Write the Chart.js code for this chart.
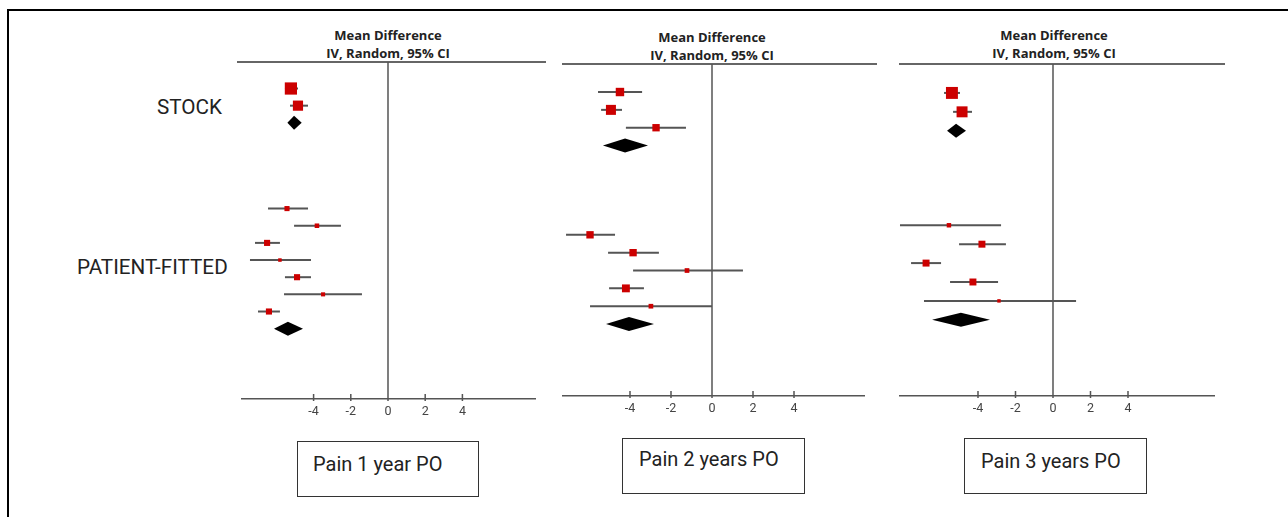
<!DOCTYPE html>
<html>
<head>
<meta charset="utf-8">
<script src="https://cdn.jsdelivr.net/npm/chart.js@4.4.1/dist/chart.umd.min.js"></script>
<style>
    html, body { margin: 0; padding: 0; background: #fff; }
    #page { position: relative; width: 1288px; height: 517px; overflow: hidden; font-family: Roboto, 'Noto Sans', sans-serif; color: #222; }
    .frame-top { position: absolute; left: 7px; top: 9px; width: 1281px; height: 2px; background: #000; }
    .frame-left { position: absolute; left: 7px; top: 9px; width: 2px; height: 508px; background: #000; }
    .group-label { position: absolute; font-size: 20.7px; white-space: nowrap; line-height: 22px; }
    .header { position: absolute; width: 220px; text-align: center; font-family: 'Open Sans', sans-serif; font-weight: 700; font-size: 13px; line-height: 18px; color: #222; }
    .header-line { position: absolute; height: 2px; background: #666; }
    .plot { position: absolute; }
    .caption { position: absolute; box-sizing: border-box; height: 56px; border: 1.5px solid #333; font-size: 20px; line-height: 22px; white-space: nowrap; }
</style>
</head>
<body>
<div id="page">
    <div class="frame-top"></div>
    <div class="frame-left"></div>

    <div class="group-label" style="left:157px; top:96px;">STOCK</div>
    <div class="group-label" style="left:77px; top:256px;">PATIENT-FITTED</div>

    <div class="header" style="left:278px; top:26px;">Mean Difference<br>IV, Random, 95% CI</div>
    <div class="header" style="left:602px; top:28px;">Mean Difference<br>IV, Random, 95% CI</div>
    <div class="header" style="left:944px; top:26px;">Mean Difference<br>IV, Random, 95% CI</div>

    <div class="header-line" style="left:237px; top:61px; width:309px;"></div>
    <div class="header-line" style="left:562px; top:63px; width:315px;"></div>
    <div class="header-line" style="left:899px; top:63px; width:326px;"></div>

    <canvas id="pain1" class="plot" width="295" height="361" style="left:241px; top:62px;"></canvas>
    <canvas id="pain2" class="plot" width="303" height="356" style="left:562px; top:64px;"></canvas>
    <canvas id="pain3" class="plot" width="316" height="356" style="left:899px; top:64px;"></canvas>

    <div class="caption" style="left:297px; top:441px; width:182px; padding:11px 0 0 15px;">Pain 1 year PO</div>
    <div class="caption" style="left:622px; top:438px; width:183px; padding:9px 0 0 16px;">Pain 2 years PO</div>
    <div class="caption" style="left:964px; top:438px; width:183px; padding:11px 0 0 16px;">Pain 3 years PO</div>
</div>

<script>
// Tick labels shared by all three axes
const xTicks = [-4, -2, 0, 2, 4];

// Pain 1 year PO
const p1StockMean   = [-5.22, -4.84];
const p1StockLower  = [-5.54, -5.27];
const p1StockUpper  = [-4.84, -4.30];
const p1StockWeight = [33.9, 23.5];
const p1StockPooled = [-5.05, -5.41, -4.64];   // mean, lower, upper

const p1FittedMean   = [-5.43, -3.82, -6.50, -5.81, -4.89, -3.49, -6.40];
const p1FittedLower  = [-6.45, -5.05, -7.15, -7.42, -5.54, -5.59, -6.99];
const p1FittedUpper  = [-4.30, -2.53, -5.81, -4.14, -4.14, -1.40, -5.81];
const p1FittedWeight = [5.9, 4.7, 8.5, 2.8, 8.5, 3.8, 8.5];
const p1FittedPooled = [-5.38, -6.13, -4.57];

// Pain 2 years PO
const p2StockMean   = [-4.49, -4.93, -2.73];
const p2StockLower  = [-5.56, -5.41, -4.20];
const p2StockUpper  = [-3.41, -4.39, -1.27];
const p2StockWeight = [16.1, 22.7, 12.3];
const p2StockPooled = [-4.24, -5.32, -3.12];

const p2FittedMean   = [-5.95, -3.85, -1.22, -4.20, -2.98];
const p2FittedLower  = [-7.12, -5.07, -3.85, -5.02, -5.95];
const p2FittedUpper  = [-4.73, -2.59, 1.51, -3.32, 0.00];
const p2FittedWeight = [12.3, 12.3, 5.0, 14.1, 5.0];
const p2FittedPooled = [-4.05, -5.17, -2.83];

// Pain 3 years PO
const p3StockMean   = [-5.39, -4.85];
const p3StockLower  = [-5.81, -5.33];
const p3StockUpper  = [-4.96, -4.32];
const p3StockWeight = [32.4, 27.3];
const p3StockPooled = [-5.17, -5.65, -4.64];

const p3FittedMean   = [-5.55, -3.79, -6.77, -4.27, -2.88];
const p3FittedLower  = [-8.16, -5.01, -7.57, -5.49, -6.88];
const p3FittedUpper  = [-2.77, -2.51, -5.97, -2.93, 1.23];
const p3FittedWeight = [4.5, 11.0, 11.0, 11.0, 2.7];
const p3FittedPooled = [-4.91, -6.45, -3.36];

const SQUARE_RED = '#cc0000';
const CI_GREY = '#555';
const AXIS_GREY = '#555';

// Zero line, crossing tick marks and pooled diamonds
const forestPlugin = {
    id: 'forest',
    beforeDatasetsDraw(chart) {
        const { ctx, chartArea, scales: { x } } = chart;
        const x0 = x.getPixelForValue(0);
        ctx.save();
        ctx.strokeStyle = AXIS_GREY;
        ctx.lineWidth = 1.5;
        ctx.beginPath();
        ctx.moveTo(x0, chartArea.top);
        ctx.lineTo(x0, chartArea.bottom);
        xTicks.forEach(v => {
            const px = x.getPixelForValue(v);
            ctx.moveTo(px, chartArea.bottom - 5);
            ctx.lineTo(px, chartArea.bottom + 2);
        });
        ctx.stroke();
        ctx.restore();
    },
    afterDatasetsDraw(chart, args, opts) {
        const { ctx, scales: { x, y } } = chart;
        ctx.save();
        ctx.fillStyle = '#000';
        opts.pooled.forEach(d => {
            const yc = y.getPixelForValue(d.row);
            const xm = x.getPixelForValue(d.values[0]);
            ctx.beginPath();
            ctx.moveTo(x.getPixelForValue(d.values[1]), yc);
            ctx.lineTo(xm, yc - 7);
            ctx.lineTo(x.getPixelForValue(d.values[2]), yc);
            ctx.lineTo(xm, yc + 7);
            ctx.closePath();
            ctx.fill();
        });
        ctx.restore();
    }
};

document.addEventListener('DOMContentLoaded', function() {
    initForest('pain1', {
        stock: { mean: p1StockMean, lower: p1StockLower, upper: p1StockUpper, weight: p1StockWeight, pooled: p1StockPooled },
        fitted: { mean: p1FittedMean, lower: p1FittedLower, upper: p1FittedUpper, weight: p1FittedWeight, pooled: p1FittedPooled },
        fittedStart: 7, xMin: -7.903, xMax: 7.957, yMin: -1.545, yMax: 18.1
    });
    initForest('pain2', {
        stock: { mean: p2StockMean, lower: p2StockLower, upper: p2StockUpper, weight: p2StockWeight, pooled: p2StockPooled },
        fitted: { mean: p2FittedMean, lower: p2FittedLower, upper: p2FittedUpper, weight: p2FittedWeight, pooled: p2FittedPooled },
        fittedStart: 8, xMin: -7.317, xMax: 7.463, yMin: -1.57, yMax: 17.03
    });
    initForest('pain3', {
        stock: { mean: p3StockMean, lower: p3StockLower, upper: p3StockUpper, weight: p3StockWeight, pooled: p3StockPooled },
        fitted: { mean: p3FittedMean, lower: p3FittedLower, upper: p3FittedUpper, weight: p3FittedWeight, pooled: p3FittedPooled },
        fittedStart: 7, xMin: -8.213, xMax: 8.64, yMin: -1.53, yMax: 16.03
    });
});

function initForest(canvasId, cfg) {
    const ctx = document.getElementById(canvasId).getContext('2d');
    const studies = [];
    const pooled = [];

    [[cfg.stock, 0], [cfg.fitted, cfg.fittedStart]].forEach(([group, start]) => {
        group.mean.forEach((m, i) => {
            studies.push({ row: start + i, mean: m, lower: group.lower[i], upper: group.upper[i], weight: group.weight[i] });
        });
        pooled.push({ row: start + group.mean.length, values: group.pooled });
    });

    const ciLines = studies.map(s => ({
        type: 'line',
        data: [{ x: s.lower, y: s.row }, { x: s.upper, y: s.row }],
        borderColor: CI_GREY,
        borderWidth: 2,
        pointRadius: 0,
        order: 1
    }));

    // square side grows with the square root of the study weight; drawn above the CI lines
    const squares = {
        type: 'scatter',
        data: studies.map(s => ({ x: s.mean, y: s.row })),
        pointStyle: 'rect',
        pointRadius: studies.map(s => 2.1 * Math.sqrt(s.weight) / Math.SQRT2),
        backgroundColor: SQUARE_RED,
        borderColor: SQUARE_RED,
        borderWidth: 0,
        order: 0
    };

    new Chart(ctx, {
        type: 'scatter',
        data: { datasets: [...ciLines, squares] },
        options: {
            responsive: false,
            animation: false,
            events: [],
            layout: { padding: 0, autoPadding: false },
            plugins: {
                legend: { display: false },
                tooltip: { enabled: false },
                forest: { pooled: pooled }
            },
            scales: {
                x: {
                    type: 'linear',
                    min: cfg.xMin,
                    max: cfg.xMax,
                    afterBuildTicks: scale => { scale.ticks = xTicks.map(v => ({ value: v })); },
                    afterFit: scale => { scale.height = 24; },
                    grid: { display: false, drawTicks: false },
                    border: { display: true, color: AXIS_GREY, width: 1.5 },
                    ticks: {
                        padding: 5,
                        color: '#444',
                        font: { family: 'Roboto, sans-serif', size: 12.5 },
                        callback: v => String(v)
                    }
                },
                y: {
                    type: 'linear',
                    reverse: true,
                    min: cfg.yMin,
                    max: cfg.yMax,
                    display: false
                }
            }
        },
        plugins: [forestPlugin]
    });
}
</script>
</body>
</html>
